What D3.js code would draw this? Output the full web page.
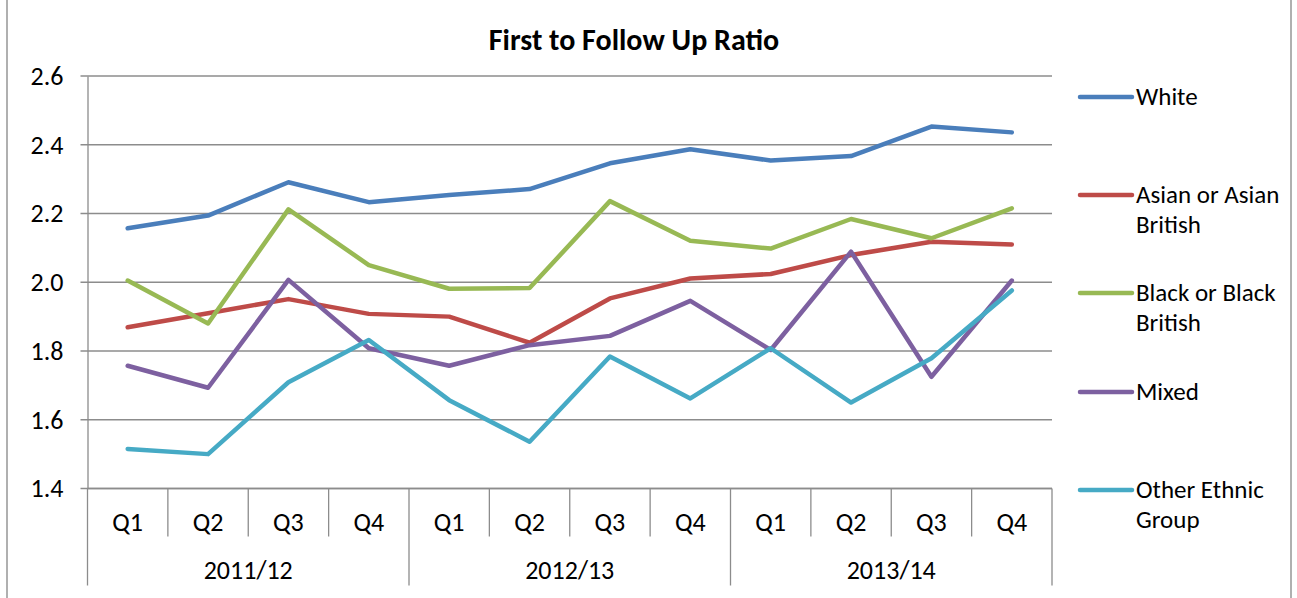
<!DOCTYPE html>
<html>
<head>
<meta charset="utf-8">
<script src="https://cdn.jsdelivr.net/npm/d3@7"></script>
<style>
  body { margin: 0; background: #fff; }
  svg { font-family: Carlito, Calibri, Lato, sans-serif; }
</style>
</head>
<body>
<svg id="chart" width="1297" height="598"></svg>
<script>
const WIDTH = 1297;
const HEIGHT = 598;

const quarters = ['Q1', 'Q2', 'Q3', 'Q4', 'Q1', 'Q2', 'Q3', 'Q4', 'Q1', 'Q2', 'Q3', 'Q4'];
const years = ['2011/12', '2012/13', '2013/14'];
const yTicks = [1.4, 1.6, 1.8, 2.0, 2.2, 2.4, 2.6];

const seriesNames = ['White', 'Asian or Asian British', 'Black or Black British', 'Mixed', 'Other Ethnic Group'];
const white = [2.157, 2.194, 2.291, 2.233, 2.254, 2.271, 2.346, 2.387, 2.354, 2.367, 2.453, 2.436];
const asian = [1.869, 1.910, 1.951, 1.908, 1.900, 1.824, 1.953, 2.011, 2.024, 2.079, 2.118, 2.110];
const black = [2.005, 1.880, 2.212, 2.050, 1.981, 1.983, 2.236, 2.121, 2.098, 2.184, 2.128, 2.215];
const mixed = [1.757, 1.693, 2.007, 1.808, 1.757, 1.817, 1.844, 1.946, 1.803, 2.089, 1.725, 2.005];
const other = [1.515, 1.500, 1.709, 1.832, 1.657, 1.536, 1.784, 1.662, 1.808, 1.650, 1.779, 1.976];
const colors = ['#4a7ebb', '#be4b48', '#98b954', '#7d60a0', '#46aac5'];

const series = [white, asian, black, mixed, other];

function drawChart() {
  const margin = {top: 76, left: 87.5, right: WIDTH - 1052, bottom: HEIGHT - 488.5};
  const width = WIDTH - margin.left - margin.right;
  const height = HEIGHT - margin.top - margin.bottom;

  const svg = d3.select('#chart');

  // outer frame (top and bottom are cropped in the reference)
  svg.append('line').attr('x1', 7).attr('x2', 7).attr('y1', 0).attr('y2', HEIGHT)
    .attr('stroke', '#868686').attr('stroke-width', 1.3);
  svg.append('line').attr('x1', 1291).attr('x2', 1291).attr('y1', 0).attr('y2', HEIGHT)
    .attr('stroke', '#868686').attr('stroke-width', 1.3);

  svg.append('text')
    .attr('x', 634)
    .attr('y', 50)
    .attr('text-anchor', 'middle')
    .attr('font-size', 30)
    .attr('font-weight', 'bold')
    .text('First to Follow Up Ratio');

  const g = svg.append('g')
    .attr('transform', `translate(${margin.left}, ${margin.top})`);

  const x = d3.scaleBand().domain(d3.range(quarters.length)).range([0, width]);
  const y = d3.scaleLinear().domain([1.4, 2.6]).range([height, 0]);

  // gridlines
  g.selectAll('.grid')
    .data(yTicks)
    .join('line')
    .attr('x1', -7)
    .attr('x2', width)
    .attr('y1', (d) => y(d))
    .attr('y2', (d) => y(d))
    .attr('stroke', '#8c8c8c')
    .attr('stroke-width', 1.3);

  // y axis
  const yAxis = g.append('g')
    .call(d3.axisLeft(y).tickValues(yTicks).tickFormat(d3.format('.1f')).tickSize(0).tickPadding(24));
  yAxis.select('.domain').attr('stroke', '#8c8c8c').attr('stroke-width', 1.3);
  yAxis.selectAll('text').attr('font-size', 26).attr('font-family', 'Carlito, Calibri, Lato, sans-serif').attr('fill', '#000');

  // x axis: two level category axis
  const xa = g.append('g').attr('transform', `translate(0, ${height})`);
  xa.append('line').attr('x1', 0).attr('x2', width).attr('y1', 0).attr('y2', 0)
    .attr('stroke', '#8c8c8c').attr('stroke-width', 1.3);
  xa.selectAll('.qsep')
    .data(d3.range(quarters.length + 1))
    .join('line')
    .attr('x1', (i) => (i < quarters.length ? x(i) : width))
    .attr('x2', (i) => (i < quarters.length ? x(i) : width))
    .attr('y1', 0)
    .attr('y2', (i) => (i % 4 === 0 ? 97 : 48))
    .attr('stroke', '#8c8c8c')
    .attr('stroke-width', 1.3);
  xa.selectAll('.qlabel')
    .data(quarters)
    .join('text')
    .attr('x', (_, i) => x(i) + x.bandwidth() / 2)
    .attr('y', 42)
    .attr('text-anchor', 'middle')
    .attr('font-size', 26)
    .text((d) => d);
  xa.selectAll('.ylabel')
    .data(years)
    .join('text')
    .attr('x', (_, i) => x(i * 4) + x.bandwidth() * 2)
    .attr('y', 90)
    .attr('text-anchor', 'middle')
    .attr('font-size', 26)
    .text((d) => d);

  // lines
  const line = d3.line()
    .x((_, i) => x(i) + x.bandwidth() / 2)
    .y((d) => y(d));

  g.selectAll('.series')
    .data(series)
    .join('path')
    .attr('fill', 'none')
    .attr('stroke', (_, i) => colors[i])
    .attr('stroke-width', 4.5)
    .attr('stroke-linejoin', 'round')
    .attr('stroke-linecap', 'round')
    .attr('d', (d) => line(d));

  // legend
  const legendY = [97, 195, 293, 392, 490];
  const lg = svg.append('g');
  seriesNames.forEach((name, i) => {
    lg.append('line')
      .attr('x1', 1080).attr('x2', 1132)
      .attr('y1', legendY[i]).attr('y2', legendY[i])
      .attr('stroke', colors[i])
      .attr('stroke-width', 4.5)
      .attr('stroke-linecap', 'round');
    const words = name.split(' ');
    let lines = [name];
    if (name.length > 12) {
      const last = words.pop();
      lines = [words.join(' '), last];
    }
    lines.forEach((t, j) => {
      lg.append('text')
        .attr('x', 1136)
        .attr('y', legendY[i] + j * 30 + 8)
        .attr('font-size', 25)
        .text(t);
    });
  });
}

drawChart();
</script>
</body>
</html>
